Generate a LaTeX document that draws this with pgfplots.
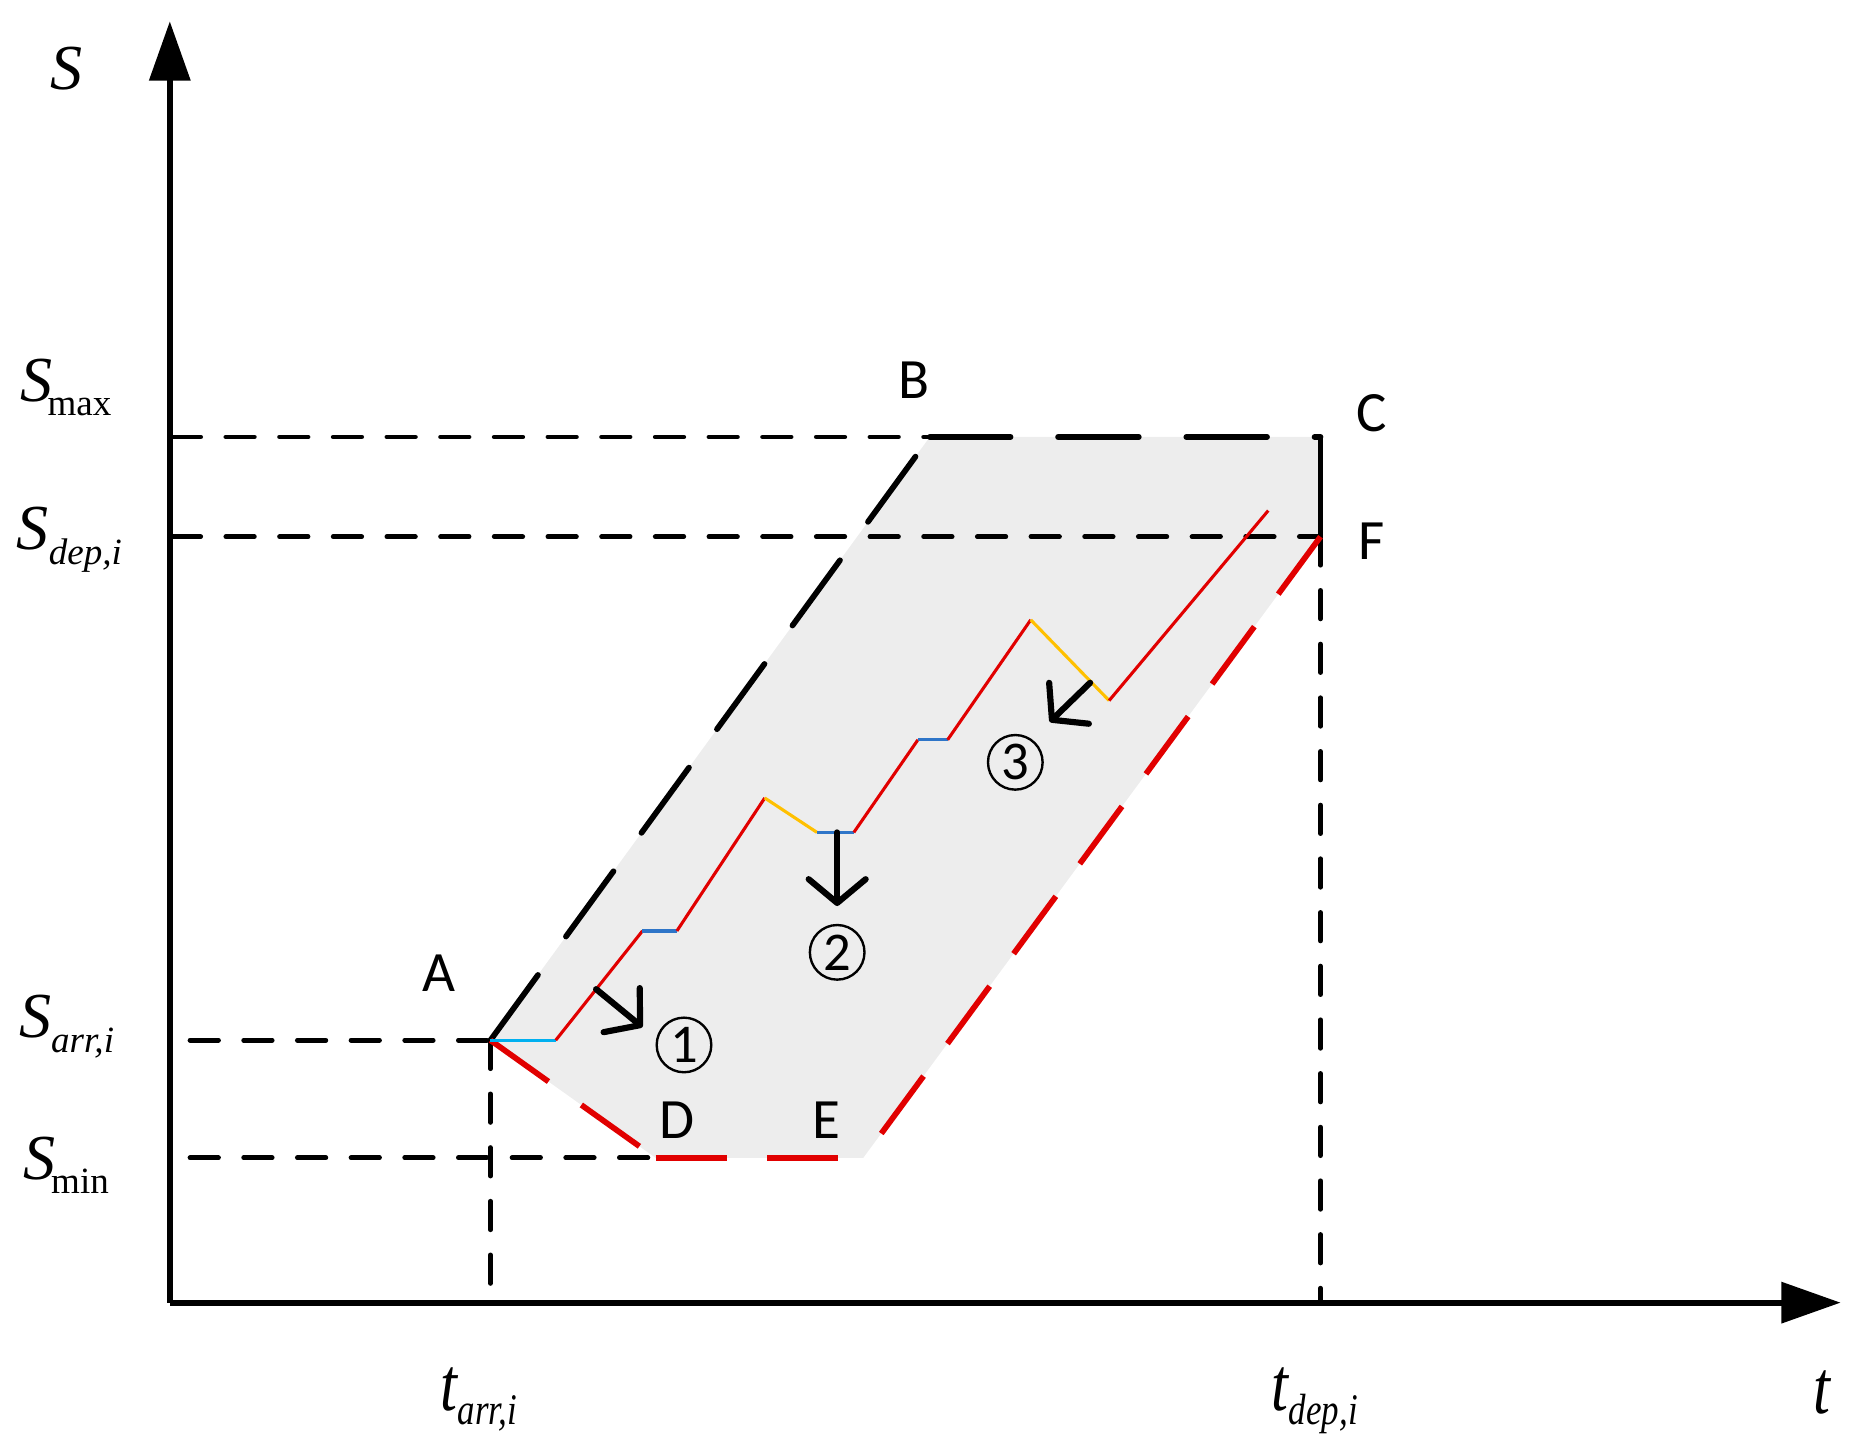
\documentclass[border=0pt]{standalone}
\usepackage{pgfplots}
\pgfplotsset{compat=1.18}
\usetikzlibrary{arrows.meta}
\usepackage{fontspec}
\setmainfont{Liberation Serif}
\newfontfamily\labfont{Carlito}

\definecolor{regfill}{RGB}{237,237,237}
\definecolor{bred}{RGB}{225,0,0}
\definecolor{scyan}{RGB}{0,176,240}
\definecolor{sblue}{RGB}{46,117,200}
\definecolor{syell}{RGB}{255,192,0}

% big italic symbol with a lowered small subscript
\newcommand{\sym}[1]{{\fontsize{13.5}{16}\selectfont\itshape #1}}
\newcommand{\low}[1]{\raisebox{-3pt}{\fontsize{7.8}{9}\selectfont #1}}
% time labels: taller, narrow
\newcommand{\tsym}[1]{{\fontsize{16}{18}\selectfont\itshape #1}}
\newcommand{\tlow}[1]{\raisebox{-3pt}{\fontsize{9.2}{10}\selectfont\itshape #1}}
\newcommand{\tlab}[1]{\scalebox{0.8}[1]{#1}}

\tikzset{
    refline/.style={black, line width=1pt, dash pattern=on 6pt off 5.3pt, line cap=round},
    bound/.style={black, line width=1.2pt, dash pattern=on 17pt off 10pt, line cap=round},
    lowbound/.style={bred, line width=1.2pt, dash pattern=on 15pt off 8.5pt},
    traj/.style={line width=0.65pt},
    note/.style={black, line width=1.3pt, line cap=round, -{Straight Barb[length=5pt,width=12pt,round]}},
    circ/.style={circle, draw, line width=0.5pt, minimum size=11.5pt, inner sep=0pt, font=\labfont\fontsize{11.5}{12}\selectfont},
    ptlab/.style={font=\labfont\fontsize{12}{14}\selectfont},
}

\begin{document}
\begin{tikzpicture}
\begin{axis}[
    width=392pt, height=304pt, scale only axis,
    xmin=-143, xmax=1425, ymin=-119, ymax=1097,
    hide axis, clip=false,
    every node/.style={inner sep=0pt},
]
% frame of the picture
\addplot[draw=none] coordinates {(-143,-119) (1425,1097)};

% feasible region
\addplot[fill=regfill, draw=none] coordinates {
    (270,221) (640,729) (969,729) (969,645) (584,122) (409,122)};

% reference lines
\addplot[refline] coordinates {(2,729) (640,729)};
\addplot[refline] coordinates {(2,645) (969,645)};
\addplot[refline] coordinates {(17,221) (270,221)};
\addplot[refline] coordinates {(17,122) (409,122)};
\addplot[refline] coordinates {(270,221) (270,4)};
\addplot[refline] coordinates {(969,645) (969,0)};

% upper boundary A-B-C-F
\addplot[bound] coordinates {(270,221) (640,729)};
\addplot[bound] coordinates {(640,729) (969,729)};
\addplot[black, line width=1.2pt] coordinates {(969,729) (969,645)};
% lower boundary A-D-E-F
\addplot[lowbound] coordinates {(270,221) (409,122)};
\addplot[lowbound] coordinates {(409,122) (584,122)};
\addplot[lowbound] coordinates {(969,645) (590,130)};

% charging trajectory
\addplot[scyan, traj] coordinates {(270,221) (325,221)};
\addplot[bred, traj] coordinates {(325,221) (398,313)};
\addplot[sblue, traj] coordinates {(398,313) (427,313)};
\addplot[bred, traj] coordinates {(427,313) (501,425)};
\addplot[syell, traj] coordinates {(501,425) (545,396)};
\addplot[sblue, traj] coordinates {(545,396) (576,396)};
\addplot[bred, traj] coordinates {(576,396) (630,474)};
\addplot[sblue, traj] coordinates {(630,474) (655,474)};
\addplot[bred, traj] coordinates {(655,474) (725,575)};
\addplot[syell, traj] coordinates {(725,575) (791,507)};
\addplot[bred, traj] coordinates {(791,507) (925,667)};

% annotation arrows
\addplot[note] coordinates {(359,264) (398,232)};
\addplot[note] coordinates {(562,396) (562,334)};
\addplot[note] coordinates {(775,522) (741,489)};

% axes
\addplot[black, line width=1.2pt, -{Triangle[length=12.5pt,width=8.5pt]}] coordinates {(0,0) (0,1079)};
\addplot[black, line width=1.2pt, -{Triangle[length=12.5pt,width=8.5pt]}] coordinates {(0,0) (1407,0)};

% point labels
\node[ptlab] at (axis cs:227,277) {A};
\node[ptlab] at (axis cs:627,777) {B};
\node[ptlab] at (axis cs:1012,749) {C};
\node[ptlab] at (axis cs:1012,641) {F};
\node[ptlab] at (axis cs:427,154) {D};
\node[ptlab] at (axis cs:553,154) {E};

\node[circ] at (axis cs:433,217) {1};
\node[circ] at (axis cs:562,295) {2};
\node[circ] at (axis cs:712,455) {3};

% axis labels
\node[anchor=base west] at (axis cs:-115,1022) {\sym{S}};
\node[anchor=base west] at (axis cs:-140,759) {\sym{S}\kern-1pt\low{max}};
\node[anchor=base west] at (axis cs:-143,634) {\sym{S}\low{\itshape dep,i}};
\node[anchor=base west] at (axis cs:-141,223) {\sym{S}\low{\itshape arr,i}};
\node[anchor=base west] at (axis cs:-137,104) {\sym{S}\kern-1pt\low{min}};
\node[anchor=base west] at (axis cs:214,-91) {\tlab{\tsym{t}\tlow{arr,i}}};
\node[anchor=base west] at (axis cs:914,-91) {\tlab{\tsym{t}\tlow{dep,i}}};
\node[anchor=base west] at (axis cs:1370,-93) {\tlab{\tsym{t}}};
\end{axis}
\pgfresetboundingbox
\path[use as bounding box] (current axis.south west) rectangle (current axis.north east);
\end{tikzpicture}
\end{document}
